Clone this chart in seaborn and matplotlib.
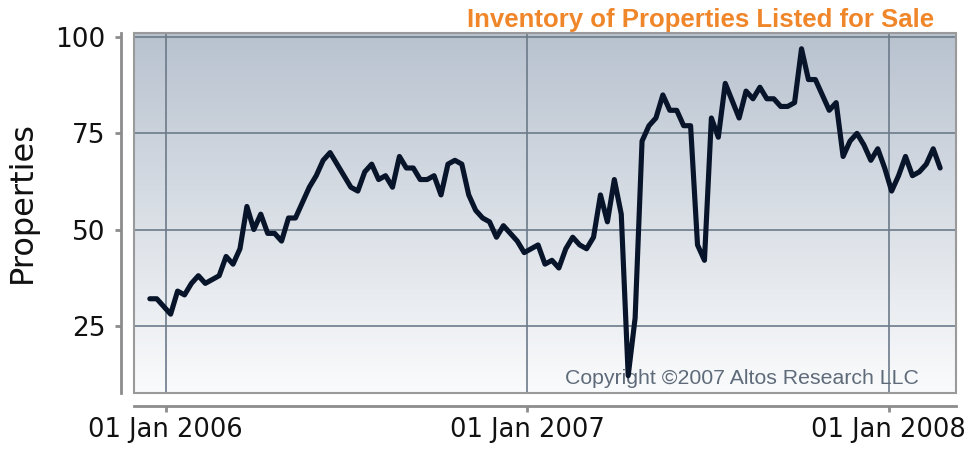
import numpy as np
import pandas as pd
import matplotlib
matplotlib.use("Agg")
import matplotlib.pyplot as plt
import matplotlib.dates as mdates
from matplotlib.colors import LinearSegmentedColormap
from matplotlib.patches import Rectangle
import seaborn as sns

# weekly inventory counts, first week ending 16 Dec 2005
startDate = "2005-12-16"
inventory = [
    32, 32, 30, 28, 34, 33, 36, 38, 36, 37,
    38, 43, 41, 45, 56, 50, 54, 49, 49, 47,
    53, 53, 57, 61, 64, 68, 70, 67, 64, 61,
    60, 65, 67, 63, 64, 61, 69, 66, 66, 63,
    63, 64, 59, 67, 68, 67, 59, 55, 53, 52,
    48, 51, 49, 47, 44, 45, 46, 41, 42, 40,
    45, 48, 46, 45, 48, 59, 52, 63, 54, 12,
    27, 73, 77, 79, 85, 81, 81, 77, 77, 46,
    42, 79, 74, 88, 83.5, 79, 86, 84, 87, 84,
    84, 82, 82, 83, 97, 89, 89, 85, 81, 83,
    69, 73, 75, 72, 68, 71, 66, 60, 64, 69,
    64, 65, 67, 71, 66,
]
yTicks = [25, 50, 75, 100]
xTickDates = ["2006-01-01", "2007-01-01", "2008-01-01"]

title = "Inventory of Properties Listed for Sale"
copyright = "Copyright \u00a92007 Altos Research LLC"

df = pd.DataFrame({
    "week": pd.date_range(startDate, periods=len(inventory), freq="7D"),
    "properties": inventory,
})

sns.set_style("white")
plt.rcParams["font.family"] = ["DejaVu Sans"]

fig = plt.figure(figsize=(9.68, 4.51), dpi=100)
pos = [134 / 968, 1 - 393 / 451, (956 - 134) / 968, (393 - 33) / 451]

# gradient panel behind the data axes
bg = fig.add_axes(pos, zorder=0)
grad = LinearSegmentedColormap.from_list("panel", ["#fafbfc", "#b8c2cf"])
bg.imshow(np.linspace(0, 1, 256).reshape(-1, 1), cmap=grad, origin="lower",
          aspect="auto", extent=[0, 1, 0, 1])
bg.set_axis_off()

ax = fig.add_axes(pos, zorder=1)
ax.patch.set_alpha(0)
sns.lineplot(data=df, x="week", y="properties", ax=ax, color="#08142a",
             linewidth=3.7, zorder=4)

ax.set_xlim(pd.Timestamp("2005-11-30"), pd.Timestamp("2008-03-09"))
ax.set_ylim(7.5, 101.1)
ax.set_yticks(yTicks)
ax.set_xticks(pd.to_datetime(xTickDates))
ax.xaxis.set_major_formatter(mdates.DateFormatter("%d %b %Y"))

ax.grid(True, color="#6c7a89", linewidth=1.2, zorder=1)
ax.set_axisbelow(True)

for side in ["top", "right"]:
    ax.spines[side].set_visible(False)
ax.spines["left"].set_position(("outward", 9.4))
ax.spines["bottom"].set_position(("outward", 9.1))
for side in ["left", "bottom"]:
    ax.spines[side].set_color("#8c8c8c")
    ax.spines[side].set_linewidth(2)

ax.tick_params(axis="y", left=True, labelsize=19, length=4.3, width=2,
               color="#8c8c8c", pad=7, labelcolor="#111111")
ax.tick_params(axis="x", bottom=True, labelsize=18.5, length=4.3, width=2,
               color="#8c8c8c", pad=4, labelcolor="#111111")

ax.set_xlabel("")
ax.set_ylabel("Properties", fontsize=23, color="#111111")
ax.yaxis.set_label_coords(-0.117, 0.53)

ax.add_patch(Rectangle((0, 0), 1, 1, transform=ax.transAxes, fill=False,
                       edgecolor="#9a9a9a", linewidth=1.5, clip_on=False,
                       zorder=6))

ax.text(0.973, 1.017, title, transform=ax.transAxes, ha="right",
        va="baseline", fontsize=18.5, fontweight="bold", color="#f0862a",
        family="Liberation Sans")
ax.text(0.955, 0.025, copyright, transform=ax.transAxes, ha="right",
        va="baseline", fontsize=15.3, color="#5f6b7a",
        family="Liberation Sans", zorder=3)

fig.savefig("out.png", dpi=100)
